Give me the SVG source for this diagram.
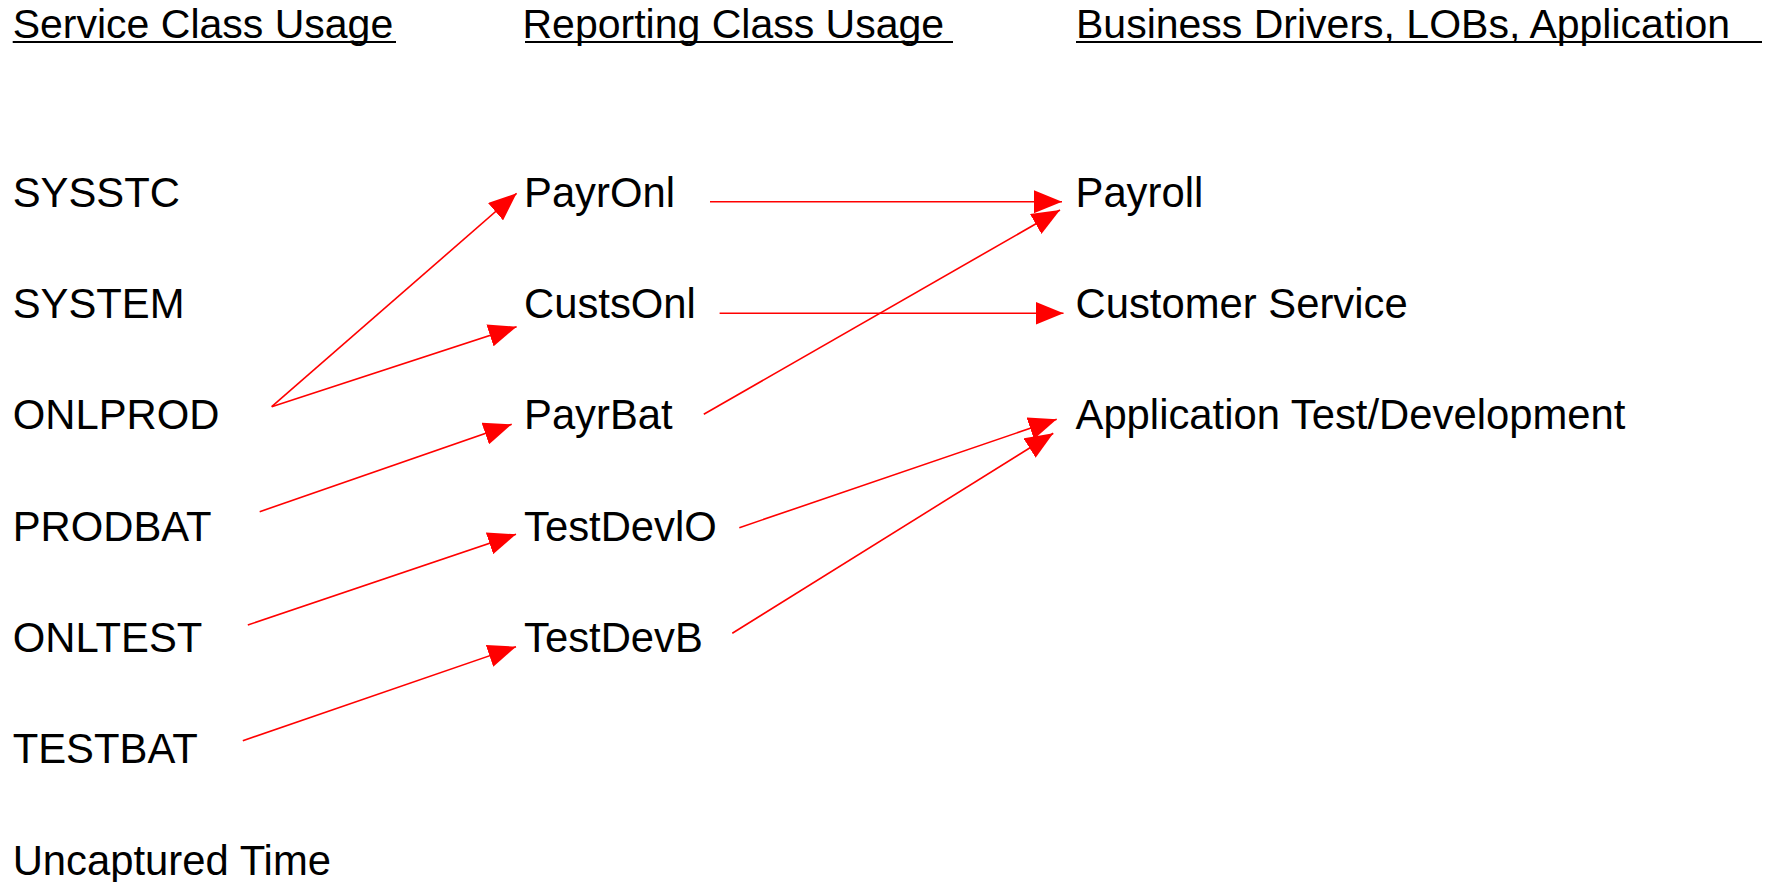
<svg xmlns="http://www.w3.org/2000/svg" width="1773" height="882" viewBox="0 0 1773 882">
  <style>
    text { font-family: "Liberation Sans", Arial, sans-serif; font-size: 41px; fill: #000; }
    .b { font-size: 41.8px; }
    .ul { stroke: #000; stroke-width: 2.2; }
    .conn line { stroke: #FF0000; stroke-width: 1.6; marker-end: url(#arrow); }
  </style>
  <defs>
    <marker id="arrow" markerUnits="userSpaceOnUse" markerWidth="28" markerHeight="23" refX="28" refY="11.5" orient="auto">
      <path d="M0,0 L28,11.5 L0,23 z" fill="#FF0000"/>
    </marker>
  </defs>
  <rect width="1773" height="882" fill="#fff"/>

  <g id="headers">
    <text x="12.7" y="37.5">Service Class Usage</text>
    <line class="ul" x1="12.7" y1="42" x2="396" y2="42"/>
    <text x="522.5" y="37.5">Reporting Class Usage</text>
    <line class="ul" x1="525" y1="42" x2="953" y2="42"/>
    <text x="1076" y="37.5">Business Drivers, LOBs, Application</text>
    <line class="ul" x1="1076" y1="42" x2="1762" y2="42"/>
  </g>

  <g id="n-SYSSTC"><text class="b" x="12.7" y="206.7">SYSSTC</text></g>
  <g id="n-SYSTEM"><text class="b" x="12.7" y="318">SYSTEM</text></g>
  <g id="n-ONLPROD"><text class="b" x="12.7" y="429.3">ONLPROD</text></g>
  <g id="n-PRODBAT"><text class="b" x="12.7" y="540.6">PRODBAT</text></g>
  <g id="n-ONLTEST"><text class="b" x="12.7" y="652">ONLTEST</text></g>
  <g id="n-TESTBAT"><text class="b" x="12.7" y="763.3">TESTBAT</text></g>
  <g id="n-Uncaptured"><text class="b" x="12.7" y="874.5">Uncaptured Time</text></g>

  <g id="n-PayrOnl"><text class="b" x="524" y="206.7">PayrOnl</text></g>
  <g id="n-CustsOnl"><text class="b" x="524" y="318">CustsOnl</text></g>
  <g id="n-PayrBat"><text class="b" x="524" y="429.3">PayrBat</text></g>
  <g id="n-TestDevlO"><text class="b" x="524" y="540.6">TestDevlO</text></g>
  <g id="n-TestDevB"><text class="b" x="524" y="652">TestDevB</text></g>

  <g id="n-Payroll"><text class="b" x="1075.5" y="206.7">Payroll</text></g>
  <g id="n-CustomerService"><text class="b" x="1075.5" y="318">Customer Service</text></g>
  <g id="n-AppTestDev"><text class="b" x="1075.5" y="429.3">Application Test/Development</text></g>

  <g id="connectors" class="conn">
    <line x1="271.7" y1="406.7" x2="516.6" y2="193.3"/>
    <line x1="271.7" y1="406.7" x2="516.6" y2="326.7"/>
    <line x1="259.7" y1="511.7" x2="511.7" y2="424.3"/>
    <line x1="247.8" y1="625" x2="516" y2="534.3"/>
    <line x1="242.8" y1="740.7" x2="516" y2="646.7"/>
    <line x1="710" y1="201.7" x2="1062" y2="201.7"/>
    <line x1="719.6" y1="313.3" x2="1063.5" y2="313.3"/>
    <line x1="703.8" y1="414.3" x2="1060" y2="210"/>
    <line x1="739.3" y1="527.7" x2="1056.7" y2="419.3"/>
    <line x1="732.3" y1="633.3" x2="1053.3" y2="433.3"/>
  </g>
</svg>
